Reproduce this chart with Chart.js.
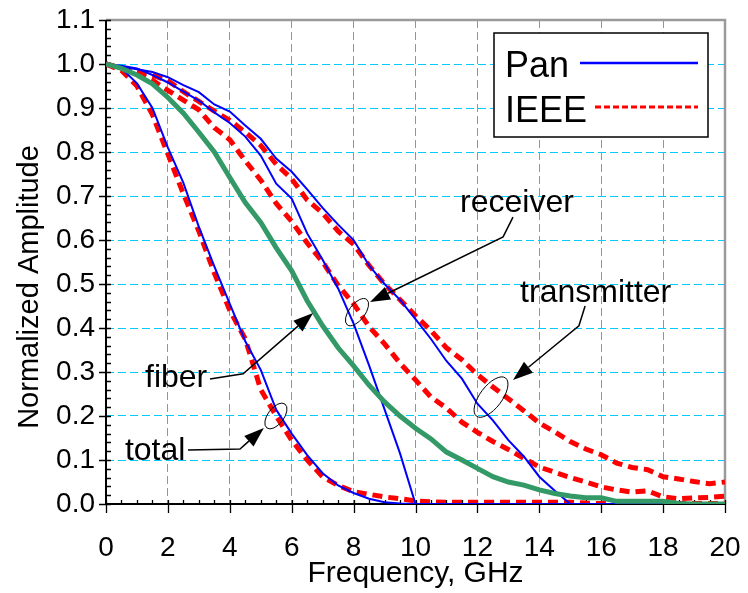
<!DOCTYPE html>
<html>
<head>
<meta charset="utf-8">
<script src="https://cdn.jsdelivr.net/npm/chart.js@4.4.0/dist/chart.umd.min.js"></script>
<style>
  html, body { margin: 0; padding: 0; background: #fff; }
  #wrap { width: 748px; height: 593px; }
</style>
</head>
<body>
<div id="wrap"><canvas id="chart"></canvas></div>
<script>
// frequency grid, GHz
const freq = [0, 0.5, 1, 1.5, 2, 2.5, 3, 3.5, 4, 4.5, 5, 5.5, 6, 6.5, 7, 7.5, 8, 8.5, 9, 9.5,
  10, 10.5, 11, 11.5, 12, 12.5, 13, 13.5, 14, 14.5, 15, 15.5, 16, 16.5, 17, 17.5, 18, 18.5, 19, 19.5, 20];

// Pan model (solid blue)
const panTotal = [1.0, 0.99, 0.956, 0.90, 0.81, 0.73, 0.63, 0.54, 0.455, 0.37, 0.305, 0.214, 0.16, 0.111, 0.07, 0.042, 0.025, 0.012, 0.004, 0.001,
  0, 0, 0, 0, 0, 0, 0, 0, 0, 0, 0, 0, 0, 0, 0, 0, 0, 0, 0, 0, 0];
const panReceiver = [1.0, 0.996, 0.99, 0.975, 0.958, 0.937, 0.917, 0.89, 0.866, 0.835, 0.792, 0.728, 0.694, 0.615, 0.555, 0.49, 0.41, 0.315, 0.215, 0.115,
  0, 0, 0, 0, 0, 0, 0, 0, 0, 0, 0, 0, 0, 0, 0, 0, 0, 0, 0, 0, 0];
const panTransmitter = [1.0, 0.994, 0.988, 0.982, 0.97, 0.952, 0.936, 0.908, 0.892, 0.86, 0.83, 0.785, 0.755, 0.715, 0.673, 0.635, 0.60, 0.542, 0.50, 0.464,
  0.42, 0.375, 0.325, 0.285, 0.228, 0.19, 0.145, 0.108, 0.062, 0.03, 0, 0, 0, 0, 0, 0, 0, 0, 0, 0, 0];

// IEEE model (dashed red)
const ieeeTotal = [1.0, 0.985, 0.95, 0.885, 0.795, 0.705, 0.62, 0.525, 0.44, 0.375, 0.26, 0.20, 0.145, 0.10, 0.062, 0.042, 0.028, 0.022, 0.016, 0.012,
  0.007, 0.005, 0.004, 0.004, 0.004, 0.004, 0.004, 0.004, 0.004, 0.004, 0.004, 0.002, 0.001, 0.001, 0.001, 0.001, 0.001, 0.001, 0.001, 0.001, 0.001];
const ieeeReceiver = [1.0, 0.99, 0.98, 0.963, 0.94, 0.918, 0.896, 0.855, 0.828, 0.78, 0.736, 0.683, 0.642, 0.593, 0.55, 0.497, 0.455, 0.403, 0.364, 0.32,
  0.282, 0.243, 0.218, 0.186, 0.163, 0.142, 0.124, 0.104, 0.084, 0.072, 0.06, 0.05, 0.039, 0.032, 0.027, 0.03, 0.016, 0.012, 0.014, 0.015, 0.018];
const ieeeTransmitter = [1.0, 0.99, 0.985, 0.975, 0.962, 0.937, 0.915, 0.893, 0.872, 0.845, 0.815, 0.772, 0.739, 0.691, 0.661, 0.62, 0.59, 0.542, 0.50, 0.464,
  0.428, 0.394, 0.355, 0.328, 0.294, 0.266, 0.239, 0.212, 0.184, 0.164, 0.142, 0.125, 0.112, 0.093, 0.083, 0.078, 0.062, 0.057, 0.051, 0.046, 0.05];

// fiber (thick green)
const fiber = [1.0, 0.99, 0.975, 0.955, 0.924, 0.888, 0.845, 0.80, 0.742, 0.685, 0.64, 0.582, 0.53, 0.462, 0.405, 0.355, 0.314, 0.27, 0.232, 0.2,
  0.172, 0.148, 0.118, 0.10, 0.081, 0.062, 0.05, 0.043, 0.032, 0.024, 0.018, 0.014, 0.014, 0.006, 0.006, 0.006, 0.006, 0.001, 0, 0, 0];

const xTicks = { min: 0, max: 20, step: 2, minor: 0.5 };
const yTicks = { min: 0, max: 1.1, step: 0.1, minor: 0.02 };

// callouts, positions in data units (GHz, amplitude)
const notes = [
  { text: 'receiver', at: [11.44, 0.664], path: [[13.15, 0.652], [12.83, 0.607], [8.53, 0.459]], ring: [8.11, 0.436], rx: 8, ry: 16 },
  { text: 'transmitter', at: [13.38, 0.459], path: [[15.48, 0.45], [15.28, 0.405], [13.15, 0.282]], ring: [12.44, 0.243], rx: 11, ry: 24 },
  { text: 'fiber', at: [1.26, 0.266], path: [[3.36, 0.284], [4.43, 0.296], [6.69, 0.434]] },
  { text: 'total', at: [0.61, 0.10], path: [[2.65, 0.123], [4.33, 0.125], [5.10, 0.173]], ring: [5.49, 0.2], rx: 8, ry: 15 },
];

const BLUE = '#0000ff';
const RED = '#ff0000';
const GREEN = '#339966';
const FONT = '"Liberation Sans", Arial, sans-serif';

const pts = (ys) => ys.map((y, i) => ({ x: freq[i], y }));

const pan = (data) => ({ data: pts(data), borderColor: BLUE, borderWidth: 2, order: 2 });
const ieee = (data) => ({ data: pts(data), borderColor: RED, borderWidth: 5, borderDash: [10, 6], borderCapStyle: 'butt', order: 3 });

// axes, frame and tick marks (drawn under the curves)
const frame = {
  id: 'frame',
  beforeDatasetsDraw(chart) {
    const { ctx, chartArea: a, scales: { x, y } } = chart;
    ctx.save();
    ctx.strokeStyle = '#9a9a9a';
    ctx.lineWidth = 2.5;
    ctx.beginPath();
    ctx.moveTo(a.left, a.top);
    ctx.lineTo(a.right, a.top);
    ctx.lineTo(a.right, a.bottom);
    ctx.stroke();

    ctx.strokeStyle = '#000';
    ctx.lineWidth = 1.3;
    ctx.beginPath();
    const nx = Math.round((xTicks.max - xTicks.min) / xTicks.minor);
    const perX = Math.round(xTicks.step / xTicks.minor);
    for (let k = 0; k <= nx; k++) {
      const px = Math.round(x.getPixelForValue(xTicks.min + k * xTicks.minor)) + 0.5;
      ctx.moveTo(px, a.bottom - 4);
      ctx.lineTo(px, a.bottom + (k % perX === 0 ? 9 : 0));
    }
    const ny = Math.round((yTicks.max - yTicks.min) / yTicks.minor);
    const perY = Math.round(yTicks.step / yTicks.minor);
    for (let k = 0; k <= ny; k++) {
      const py = Math.round(y.getPixelForValue(yTicks.min + k * yTicks.minor)) + 0.5;
      ctx.moveTo(a.left + 5, py);
      ctx.lineTo(a.left - (k % perY === 0 ? 7 : 0), py);
    }
    ctx.stroke();

    ctx.lineWidth = 2;
    ctx.beginPath();
    ctx.moveTo(a.left, a.top);
    ctx.lineTo(a.left, a.bottom);
    ctx.lineTo(a.right, a.bottom);
    ctx.stroke();
    ctx.restore();
  }
};

// legend box, callouts and axis titles
const extras = {
  id: 'extras',
  afterDatasetsDraw(chart) {
    const { ctx, chartArea: a, scales: { x, y } } = chart;
    const P = (p) => [x.getPixelForValue(p[0]), y.getPixelForValue(p[1])];
    ctx.save();

    // callouts
    ctx.fillStyle = '#000';
    ctx.strokeStyle = '#000';
    ctx.font = '32px ' + FONT;
    ctx.textBaseline = 'alphabetic';
    for (const n of notes) {
      const [tx, ty] = P(n.at);
      ctx.fillText(n.text, tx, ty);
      const path = n.path.map(P);
      const tip = path[path.length - 1];
      const prev = path[path.length - 2];
      const ang = Math.atan2(tip[1] - prev[1], tip[0] - prev[0]);
      const len = 20, half = 7;
      const base = [tip[0] - len * Math.cos(ang), tip[1] - len * Math.sin(ang)];
      ctx.lineWidth = 1.5;
      ctx.beginPath();
      ctx.moveTo(path[0][0], path[0][1]);
      for (let i = 1; i < path.length - 1; i++) ctx.lineTo(path[i][0], path[i][1]);
      ctx.lineTo(base[0], base[1]);
      ctx.stroke();
      ctx.beginPath();
      ctx.moveTo(tip[0], tip[1]);
      ctx.lineTo(base[0] + half * Math.sin(ang), base[1] - half * Math.cos(ang));
      ctx.lineTo(base[0] - half * Math.sin(ang), base[1] + half * Math.cos(ang));
      ctx.closePath();
      ctx.fill();
      if (n.ring) {
        const [cx, cy] = P(n.ring);
        ctx.lineWidth = 1;
        ctx.beginPath();
        ctx.ellipse(cx, cy, n.rx, n.ry, 0.65, 0, Math.PI * 2);
        ctx.stroke();
      }
    }

    // legend
    const lx = a.right - 231, ly = a.top + 13, lw = 214, lh = 104;
    ctx.fillStyle = '#fff';
    ctx.fillRect(lx, ly, lw, lh);
    ctx.lineWidth = 1.5;
    ctx.strokeStyle = '#000';
    ctx.strokeRect(lx, ly, lw, lh);
    ctx.fillStyle = '#000';
    ctx.font = '36px ' + FONT;
    ctx.fillText('Pan', lx + 11, ly + 44);
    ctx.fillText('IEEE', lx + 11, ly + 89);
    ctx.strokeStyle = BLUE;
    ctx.lineWidth = 2.5;
    ctx.beginPath();
    ctx.moveTo(lx + 86, ly + 30);
    ctx.lineTo(lx + 204, ly + 30);
    ctx.stroke();
    ctx.strokeStyle = RED;
    ctx.lineWidth = 3;
    ctx.setLineDash([6, 3]);
    ctx.beginPath();
    ctx.moveTo(lx + 101, ly + 74);
    ctx.lineTo(lx + 204, ly + 74);
    ctx.stroke();
    ctx.setLineDash([]);

    // axis titles
    ctx.font = '30px ' + FONT;
    ctx.textAlign = 'center';
    ctx.fillText('Frequency, GHz', (a.left + a.right) / 2, 582);
    ctx.translate(30, 287);
    ctx.rotate(-Math.PI / 2);
    ctx.font = '29px ' + FONT;
    ctx.textBaseline = 'middle';
    ctx.fillText('Normalized Amplitude', 0, 0);
    ctx.restore();
  }
};

const gridColor = (ctx) => {
  const n = ctx.scale.ticks.length;
  return (ctx.index === 0 || ctx.index === n - 1) ? 'rgba(0,0,0,0)' : '#00ccff';
};

Chart.defaults.font.family = FONT;
Chart.defaults.color = '#000';

new Chart(document.getElementById('chart'), {
  type: 'line',
  data: {
    datasets: [
      pan(panTotal), pan(panReceiver), pan(panTransmitter),
      ieee(ieeeTotal), ieee(ieeeReceiver), ieee(ieeeTransmitter),
      { data: pts(fiber), borderColor: GREEN, borderWidth: 5, order: 1 },
    ],
  },
  options: {
    responsive: true,
    maintainAspectRatio: false,
    animation: false,
    layout: { padding: { top: 20, right: 23, left: 0, bottom: 0 } },
    elements: { point: { radius: 0 }, line: { tension: 0, fill: false } },
    scales: {
      x: {
        type: 'linear',
        min: xTicks.min,
        max: xTicks.max,
        afterFit: (s) => { s.height = 89; s.paddingLeft = 0; s.paddingRight = 0; },
        ticks: { stepSize: xTicks.step, padding: 27, font: { size: 28 }, maxRotation: 0 },
        grid: { color: gridColor, lineWidth: 1, drawTicks: false },
        border: { display: false, dash: [8, 4] },
      },
      y: {
        min: yTicks.min,
        max: yTicks.max,
        afterFit: (s) => { s.width = 106; s.paddingTop = 0; s.paddingBottom = 0; },
        ticks: { stepSize: yTicks.step, padding: 11, font: { size: 28 }, callback: (v) => v.toFixed(1) },
        grid: { color: gridColor, lineWidth: 1, drawTicks: false },
        border: { display: false, dash: [8, 4] },
      },
    },
    plugins: { legend: { display: false }, tooltip: { enabled: false } },
  },
  plugins: [frame, extras],
});
</script>
</body>
</html>
